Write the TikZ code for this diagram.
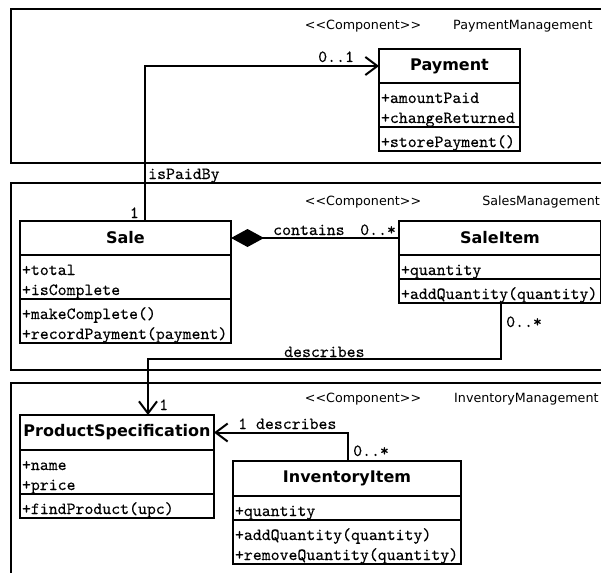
\documentclass[tikz,border=0pt]{standalone}
\usepackage{fontspec}
\setsansfont{DejaVu Sans}
\newfontfamily\umlmono[FakeBold=0.25]{lmmono10-regular.otf}
\usetikzlibrary{arrows.meta, positioning}

\begin{document}
\begin{tikzpicture}[x=1pt, y=-1pt,
    pkg/.style={line width=2pt},
    clstitle/.style={draw, line width=2pt, outer sep=0pt, inner sep=0pt, anchor=north west,
      minimum height=34pt, font=\sffamily\bfseries\fontsize{16}{19}\selectfont},
    clspart/.style={draw, line width=2pt, outer sep=0pt, inner xsep=2pt, inner ysep=0pt,
      align=left, font=\umlmono\fontsize{17}{20}\selectfont,
      execute at begin node={\rule{0pt}{20pt}}, execute at end node={\rule[-4pt]{0pt}{4pt}}},
    lbl/.style={inner sep=0pt, font=\umlmono\fontsize{17}{20}\selectfont},
    stereo/.style={inner sep=0pt, font=\sffamily\fontsize{12.7}{15}\selectfont},
    assoc/.style={line width=2pt, -{Straight Barb[length=12pt, width=18pt, line width=2pt]}},
    compo/.style={line width=2pt, -{Diamond[length=33pt, width=18pt]}}]
  \useasboundingbox (0,0) rectangle (601,572);
  \clip (0,0) rectangle (601,572);
  % packages
  \draw[pkg] (11,9) rectangle (630,163);
  \draw[pkg] (11,183) rectangle (630,370);
  \draw[pkg] (11,383) rectangle (630,600);
  \node[stereo, anchor=base] (paystereo) at (363,30) {<{}<Component>{}>};
  \node[stereo, anchor=base west] (payname) at (453,30) {PaymentManagement};
  \node[stereo, anchor=base] (salestereo) at (363,205) {<{}<Component>{}>};
  \node[stereo, anchor=base east] (salename) at (600,205) {SalesManagement};
  \node[stereo, anchor=base] (invstereo) at (363,402) {<{}<Component>{}>};
  \node[stereo, anchor=base west] (invname) at (454,402) {InventoryManagement};
  % Payment
  \node[clstitle, minimum width=141pt] (paytitle) at (379,49) {Payment};
  \node[clspart, below=0pt of paytitle, text width=137pt] (payattr) {+amountPaid\\+changeReturned};
  \node[clspart, below=0pt of payattr, text width=137pt] (payops) {+storePayment()};
  % Sale
  \node[clstitle, minimum width=211pt] (saletitle) at (20,221) {Sale};
  \node[clspart, below=0pt of saletitle, text width=207pt] (saleattr) {+total\\+isComplete};
  \node[clspart, below=0pt of saleattr, text width=207pt] (saleops) {+makeComplete()\\+recordPayment(payment)};
  % SaleItem
  \node[clstitle, minimum width=202pt] (sititle) at (399,221) {SaleItem};
  \node[clspart, below=0pt of sititle, text width=198pt] (siattr) {+quantity};
  \node[clspart, below=0pt of siattr, text width=198pt] (siops) {+addQuantity(quantity)};
  % ProductSpecification
  \node[clstitle, minimum width=194pt, minimum height=35pt] (pstitle) at (20,415) {ProductSpecification};
  \node[clspart, below=0pt of pstitle, text width=190pt] (psattr) {+name\\+price};
  \node[clspart, below=0pt of psattr, text width=190pt] (psops) {+findProduct(upc)};
  % InventoryItem
  \node[clstitle, minimum width=228pt, minimum height=35pt] (iititle) at (233,461) {InventoryItem};
  \node[clspart, below=0pt of iititle, text width=224pt] (iiattr) {+quantity};
  \node[clspart, below=0pt of iiattr, text width=224pt] (iiops) {+addQuantity(quantity)\\+removeQuantity(quantity)};
  % associations
  \draw[assoc] ([xshift=125pt]saletitle.north west) |- (paytitle.west);
  \node[lbl, anchor=base west] (paymult) at (318,62) {0..1};
  \node[lbl, anchor=base west] (paidby) at (148,179) {isPaidBy};
  \node[lbl, anchor=base east] (salemult) at (139,218) {1};
  \draw[compo] (sititle.west) -- (saletitle.east);
  \node[lbl, anchor=base west] (contains) at (273,235) {contains};
  \node[lbl, anchor=base west] (simult) at (360,235) {0..*};
  \draw[assoc] ([xshift=102pt]siops.south west) -- ++(0,56) -| ([xshift=128pt]pstitle.north west);
  \node[lbl, anchor=base west] (sidescmult) at (506,327) {0..*};
  \node[lbl, anchor=base west] (sidesc) at (284,357) {describes};
  \node[lbl, anchor=base west] (psmult) at (159,410) {1};
  \draw[assoc] ([xshift=115pt]iititle.north west) |- (pstitle.east);
  \node[lbl, anchor=base west] (iidesc) at (238,429) {1 describes};
  \node[lbl, anchor=base west] (iimult) at (353,456) {0..*};
\end{tikzpicture}
\end{document}
